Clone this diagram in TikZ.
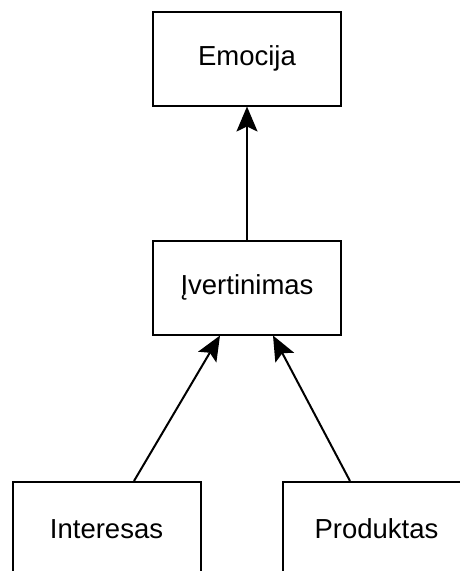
\documentclass[tikz,border=0pt]{standalone}
\usepackage{fontspec}
\setmainfont{Liberation Sans}
\usetikzlibrary{arrows.meta}
\begin{document}
\begin{tikzpicture}[x=1pt,y=-1pt,
  blockbox/.style={draw=black, line width=2pt, fill=white, rectangle,
    minimum width=188pt, minimum height=94pt, inner sep=0pt,
    font=\fontsize{27.5}{33}\selectfont},
  link/.style={line width=2pt, draw=black,
    -{Stealth[length=25pt,width=21pt,inset=5pt]}}]
\useasboundingbox (0,0) rectangle (459,571);
\fill[white] (0,0) rectangle (459,571);
% blocks
\node[blockbox] (emo) at (247,58.5) {Emocija};
\node[blockbox] (ver) at (247,287.5) {Įvertinimas};
\node[blockbox] (int) at (106.5,529) {Interesas};
\node[blockbox] (pro) at (376.5,529) {Produktas};
% connectors
\draw[link] (ver.north) -- (emo.south);
\draw[link] ([xshift=27.5pt]int.north) -- ([xshift=-27pt]ver.south);
\draw[link] ([xshift=-26.5pt]pro.north) -- ([xshift=26pt]ver.south);
\end{tikzpicture}
\end{document}
